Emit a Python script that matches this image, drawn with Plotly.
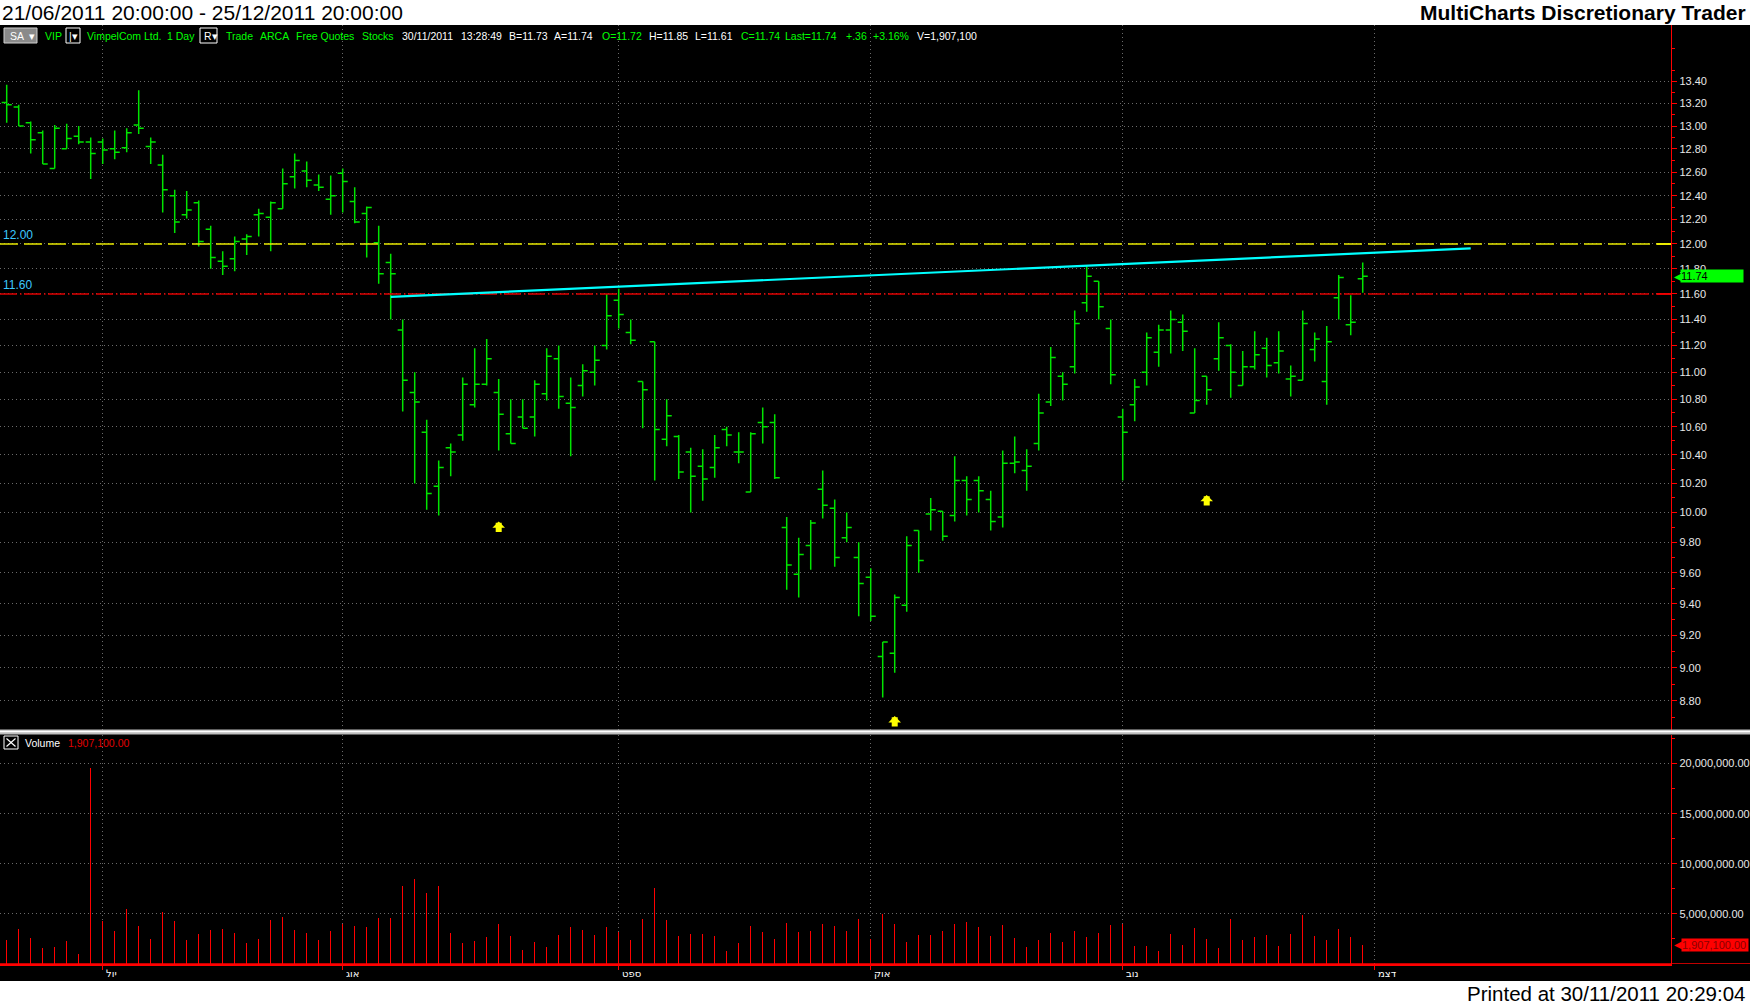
import math
import pandas as pd
import plotly.graph_objects as go

# ---------------- data ----------------
HOLIDAYS = ["2011-07-04", "2011-09-05", "2011-11-24"]
dates = list(pd.bdate_range("2011-06-21", "2011-11-30", freq="C", holidays=HOLIDAYS))
bar_x = list(range(len(dates)))

opens = [13.21, 13.17, 13.03, 12.94, 12.63, 12.80, 12.91, 12.86, 12.86, 12.80,
         12.81, 13.01, 12.82, 12.66, 12.40, 12.24, 12.34, 12.12, 11.86, 11.88,
         12.04, 12.24, 12.22, 12.29, 12.56, 12.61, 12.49, 12.37, 12.59, 12.35,
         12.25, 12.01, 11.85, 11.32, 10.85, 10.56, 10.18, 10.45, 10.54, 10.76,
         10.91, 10.85, 10.55, 10.67, 10.67, 10.84, 11.10, 10.77, 10.90, 11.00,
         11.20, 11.55, 11.30, 10.93, 11.23, 10.51, 10.53, 10.42, 10.32, 10.31,
         10.58, 10.42, 10.14, 10.63, 10.63, 9.90, 9.59, 9.78, 10.16, 10.03,
         9.83, 9.70, 9.57, 9.07, 9.09, 9.39, 9.88, 9.99, 10.01, 9.98,
         10.22, 10.22, 10.09, 9.97, 10.34, 10.29, 10.48, 10.78, 10.97, 11.04,
         11.53, 11.70, 11.33, 10.67, 10.76, 11.00, 11.15, 11.32, 11.38, 10.70,
         10.97, 11.10, 11.20, 10.90, 11.04, 11.18, 11.07, 10.95, 10.94, 11.17,
         10.93, 11.57, 11.36, 11.72]
highs = [13.37, 13.19, 13.04, 12.96, 13.01, 13.02, 13.00, 12.90, 12.89, 12.96,
         12.98, 13.32, 12.90, 12.75, 12.45, 12.44, 12.36, 12.15, 11.94, 12.06,
         12.08, 12.29, 12.35, 12.63, 12.76, 12.69, 12.58, 12.57, 12.63, 12.47,
         12.31, 12.15, 11.92, 11.40, 11.00, 10.65, 10.36, 10.48, 10.96, 11.18,
         11.25, 10.95, 10.80, 10.80, 10.94, 11.18, 11.20, 10.96, 11.06, 11.20,
         11.60, 11.64, 11.40, 10.93, 11.23, 10.80, 10.54, 10.45, 10.44, 10.54,
         10.60, 10.56, 10.56, 10.74, 10.69, 9.97, 9.83, 9.95, 10.29, 10.09,
         10.00, 9.80, 9.63, 9.16, 9.46, 9.84, 9.88, 10.10, 10.01, 10.39,
         10.25, 10.25, 10.15, 10.43, 10.53, 10.44, 10.84, 11.19, 11.00, 11.47,
         11.82, 11.70, 11.40, 10.73, 10.95, 11.30, 11.36, 11.47, 11.44, 11.18,
         10.97, 11.38, 11.21, 11.16, 11.31, 11.26, 11.31, 11.05, 11.47, 11.30,
         11.35, 11.75, 11.59, 11.85]
lows = [13.03, 13.00, 12.76, 12.67, 12.63, 12.80, 12.84, 12.54, 12.67, 12.71,
        12.77, 12.93, 12.67, 12.26, 12.09, 12.21, 11.98, 11.80, 11.75, 11.78,
        11.91, 12.06, 11.94, 12.29, 12.46, 12.47, 12.44, 12.24, 12.26, 12.17,
        11.89, 11.68, 11.40, 10.71, 10.20, 10.02, 9.98, 10.25, 10.50, 10.74,
        10.90, 10.43, 10.48, 10.59, 10.53, 10.79, 10.73, 10.39, 10.82, 10.90,
        11.17, 11.33, 11.21, 10.59, 10.22, 10.46, 10.23, 10.00, 10.08, 10.24,
        10.46, 10.34, 10.14, 10.48, 10.23, 9.49, 9.44, 9.62, 9.96, 9.64,
        9.80, 9.32, 9.29, 8.82, 8.97, 9.35, 9.60, 9.88, 9.81, 9.94,
        9.98, 10.00, 9.88, 9.90, 10.27, 10.15, 10.43, 10.75, 10.79, 10.99,
        11.46, 11.40, 10.91, 10.22, 10.64, 10.90, 11.04, 11.14, 11.16, 10.70,
        10.76, 11.01, 10.81, 10.90, 11.02, 10.96, 10.99, 10.82, 10.94, 11.08,
        10.76, 11.40, 11.28, 11.61]
closes = [13.19, 13.00, 12.88, 12.67, 12.98, 12.89, 12.86, 12.76, 12.79, 12.77,
          12.94, 12.98, 12.86, 12.45, 12.18, 12.28, 12.02, 11.89, 11.82, 12.02,
          12.06, 12.25, 12.34, 12.50, 12.70, 12.53, 12.47, 12.40, 12.52, 12.18,
          12.30, 11.76, 11.76, 10.94, 10.78, 10.13, 10.31, 10.42, 10.91, 10.91,
          11.10, 10.69, 10.48, 10.59, 10.91, 11.12, 10.82, 10.74, 11.01, 11.09,
          11.43, 11.44, 11.24, 10.87, 10.58, 10.68, 10.28, 10.25, 10.23, 10.45,
          10.54, 10.42, 10.55, 10.60, 10.24, 9.65, 9.72, 9.93, 10.05, 9.70,
          9.90, 9.53, 9.32, 9.16, 9.44, 9.78, 9.68, 10.02, 9.84, 10.22,
          10.09, 10.15, 9.94, 10.34, 10.35, 10.32, 10.70, 11.11, 10.91, 11.37,
          11.74, 11.50, 10.98, 10.56, 10.89, 11.26, 11.32, 11.40, 11.31, 10.79,
          10.87, 11.26, 11.00, 11.04, 11.13, 11.05, 11.16, 10.97, 11.37, 11.25,
          11.23, 11.73, 11.38, 11.74]
volume_m = [2.42, 3.52, 2.62, 1.63, 1.72, 2.32, 1.03, 19.54, 4.25, 3.32,
            5.51, 3.81, 2.52, 5.21, 4.31, 2.42, 3.02, 3.42, 3.52, 3.12,
            2.12, 2.52, 4.41, 4.71, 3.42, 3.12, 2.42, 3.32, 4.01, 3.81,
            3.71, 4.61, 4.61, 7.79, 8.49, 7.10, 7.79, 3.12, 2.12, 2.32,
            2.72, 4.01, 2.82, 1.43, 2.22, 1.72, 2.92, 3.71, 3.42, 2.92,
            3.71, 3.21, 2.42, 4.50, 7.58, 4.40, 2.81, 3.01, 3.01, 2.81,
            1.32, 2.12, 3.81, 3.21, 2.52, 4.11, 3.21, 3.31, 4.01, 3.81,
            3.31, 4.50, 2.52, 5.00, 4.01, 2.22, 2.91, 2.91, 3.31, 4.01,
            4.21, 3.71, 2.81, 3.91, 2.62, 1.72, 2.42, 3.11, 2.22, 3.31,
            2.72, 3.11, 3.91, 4.01, 1.82, 1.82, 1.32, 3.01, 1.92, 3.61,
            2.52, 1.62, 4.50, 2.42, 2.72, 2.91, 1.82, 3.01, 4.90, 2.81,
            2.42, 3.51, 2.72, 1.9071]
volumes = [v * 1e6 for v in volume_m]

month_labels = ["יול", "אוג", "ספט", "אוק", "נוב", "דצמ"]
month_pos = [i for i in range(1, len(dates)) if dates[i].month != dates[i - 1].month] + [len(dates)]

price_ticks = [8.8, 9.0, 9.2, 9.4, 9.6, 9.8, 10.0, 10.2, 10.4, 10.6, 10.8, 11.0,
               11.2, 11.4, 11.6, 11.8, 12.0, 12.2, 12.4, 12.6, 12.8, 13.0, 13.2, 13.4]
price_minor = [8.7, 8.9, 9.1, 9.3, 9.5, 9.7, 9.9, 10.1, 10.3, 10.5, 10.7, 10.9, 11.1,
               11.3, 11.5, 11.7, 11.9, 12.1, 12.3, 12.5, 12.7, 12.9, 13.1, 13.3, 13.5, 13.7]
vol_ticks = [5e6, 10e6, 15e6, 20e6]
vol_minor = [2.5e6, 7.5e6, 12.5e6, 17.5e6, 22.5e6]

trend_x = [32, 122]
trend_y = [11.576, 11.964]
level_yellow = 12.00
level_red = 11.60
arrow_x = [41, 74, 100]
arrow_tip = [9.94, 8.71, 10.12]
last_price = 11.74
last_volume = 1907100

# ---------------- layout helpers ----------------
W, H = 1750, 1005
AXIS_PX = 1671
BAR_PX = 12.0


def fx(px):
    return px / W


def fy(px):
    return 1 - px / H


FONT = "Liberation Sans, Arial, sans-serif"
GREEN = "#00e400"
TXT_GREEN = "#00ff00"
GRID = "#6a6a6a"
GRID_DASH = "1px,3px"

x_range = [-0.558, 138.69]
y_range = [0.93607, 1.14372]

fig = go.Figure()

# level lines (full width of the price panel)
fig.add_trace(go.Scatter(
    x=x_range, y=[level_yellow, level_yellow], mode="lines",
    line=dict(color="#e8e800", width=1.5, dash="18px,6px"),
    xaxis="x", yaxis="y", hoverinfo="skip", showlegend=False, cliponaxis=True))
fig.add_trace(go.Scatter(
    x=x_range, y=[level_red, level_red], mode="lines",
    line=dict(color="#e00000", width=1.5, dash="17px,3px,1.5px,2.5px"),
    xaxis="x", yaxis="y", hoverinfo="skip", showlegend=False, cliponaxis=True))
# solid level markers next to the price scale
seg_x = [x_range[1] - 14 / BAR_PX, x_range[1]]
fig.add_trace(go.Scatter(
    x=seg_x, y=[level_yellow, level_yellow], mode="lines",
    line=dict(color="#ffff00", width=1.5),
    xaxis="x", yaxis="y", hoverinfo="skip", showlegend=False))
fig.add_trace(go.Scatter(
    x=seg_x, y=[level_red, level_red], mode="lines",
    line=dict(color="#ff0000", width=1.5),
    xaxis="x", yaxis="y", hoverinfo="skip", showlegend=False))

fig.add_trace(go.Ohlc(
    x=bar_x, open=opens, high=highs, low=lows, close=closes,
    increasing=dict(line=dict(color=GREEN, width=1.5)),
    decreasing=dict(line=dict(color=GREEN, width=1.5)),
    tickwidth=0.42, xaxis="x", yaxis="y", hoverinfo="skip", showlegend=False,
))
fig.add_trace(go.Scatter(
    x=trend_x, y=trend_y, mode="lines", line=dict(color="#00ffff", width=2.2),
    xaxis="x", yaxis="y", hoverinfo="skip", showlegend=False,
))
fig.add_trace(go.Bar(
    x=bar_x, y=volumes, width=0.1, marker=dict(color="#ff0000", line=dict(width=0)),
    xaxis="x2", yaxis="y2", hoverinfo="skip", showlegend=False,
))

shapes = [
    # black chart background
    dict(type="rect", xref="paper", yref="paper", x0=0, x1=1, y0=fy(981), y1=fy(25),
         fillcolor="#000000", line=dict(width=0), layer="below"),
    # panel separator
    dict(type="rect", xref="paper", yref="paper", x0=0, x1=1, y0=fy(734.5), y1=fy(729.5),
         fillcolor="#bdbdbd", line=dict(width=0)),
    dict(type="line", xref="paper", yref="paper", x0=0, x1=1, y0=fy(731.5), y1=fy(731.5),
         line=dict(color="#ffffff", width=1.5)),
    # volume base line across full width
    dict(type="line", xref="paper", yref="y2", x0=0, x1=1, y0=0, y1=0,
         line=dict(color="#ff0000", width=1.5)),
    # toolbar boxes
    dict(type="rect", xref="paper", yref="paper", x0=fx(4), x1=fx(37), y0=fy(43), y1=fy(28),
         fillcolor="#8a8a8a", line=dict(color="#d0d0d0", width=1)),
    dict(type="rect", xref="paper", yref="paper", x0=fx(66), x1=fx(80), y0=fy(43), y1=fy(28),
         fillcolor="#000000", line=dict(color="#ffffff", width=1)),
    dict(type="rect", xref="paper", yref="paper", x0=fx(200), x1=fx(217), y0=fy(43), y1=fy(28),
         fillcolor="#000000", line=dict(color="#ffffff", width=1)),
    # volume legend box with X
    dict(type="rect", xref="paper", yref="paper", x0=fx(4), x1=fx(18), y0=fy(749), y1=fy(736),
         line=dict(color="#ffffff", width=1)),
    dict(type="line", xref="paper", yref="paper", x0=fx(6.5), x1=fx(15.5), y0=fy(738.5), y1=fy(746.5),
         line=dict(color="#ffffff", width=1.2)),
    dict(type="line", xref="paper", yref="paper", x0=fx(6.5), x1=fx(15.5), y0=fy(746.5), y1=fy(738.5),
         line=dict(color="#ffffff", width=1.2)),
]

ann = []
# header / footer
ann.append(dict(text="21/06/2011 20:00:00 - 25/12/2011 20:00:00", xref="paper", yref="paper",
                x=0, y=fy(12.5), xanchor="left", yanchor="middle", showarrow=False,
                font=dict(family=FONT, size=21, color="#000000")))
ann.append(dict(text="<b>MultiCharts Discretionary Trader</b>", xref="paper", yref="paper",
                x=fx(1748), y=fy(12.5), xanchor="right", yanchor="middle", showarrow=False,
                font=dict(family=FONT, size=21, color="#000000")))
ann.append(dict(text="Printed at 30/11/2011 20:29:04", xref="paper", yref="paper",
                x=fx(1748), y=fy(993), xanchor="right", yanchor="middle", showarrow=False,
                font=dict(family=FONT, size=20.5, color="#000000")))

# toolbar
WHITE = "#ffffff"
toolbar = [
    ("SA", 8, WHITE), ("▾", 27, WHITE), ("VIP", 43, TXT_GREEN), ("|▾", 67, WHITE),
    ("VimpelCom Ltd.", 85, TXT_GREEN), ("1 Day", 165, TXT_GREEN), ("R▾", 202, WHITE),
    ("Trade", 224, TXT_GREEN), ("ARCA", 258, TXT_GREEN), ("Free Quotes", 294, TXT_GREEN),
    ("Stocks", 360, TXT_GREEN), ("30/11/2011", 400, WHITE), ("13:28:49", 459, WHITE),
    ("B=11.73", 507, WHITE), ("A=11.74", 552, WHITE), ("O=11.72", 600, TXT_GREEN),
    ("H=11.85", 647, WHITE), ("L=11.61", 693, WHITE), ("C=11.74", 739, TXT_GREEN),
    ("Last=11.74", 783, TXT_GREEN), ("+.36", 844, TXT_GREEN), ("+3.16%", 871, TXT_GREEN),
    ("V=1,907,100", 915, WHITE),
]
for t, px, c in toolbar:
    ann.append(dict(text=t, xref="paper", yref="paper", x=fx(px), y=fy(35.7),
                    xanchor="left", yanchor="middle", showarrow=False,
                    font=dict(family=FONT, size=10.5, color=c)))

# level labels
for lv in (level_yellow, level_red):
    ann.append(dict(text=f"{lv:.2f}", xref="paper", yref="y", x=0.0005, y=math.log10(lv),
                    xanchor="left", yanchor="bottom", showarrow=False,
                    font=dict(family=FONT, size=12, color="#3cc8ff")))

# arrows
for ax_, tip in zip(arrow_x, arrow_tip):
    ann.append(dict(text="", x=ax_, y=math.log10(tip), xref="x", yref="y", showarrow=True,
                    ax=0, ay=12, arrowhead=1, arrowwidth=6, arrowsize=0.35,
                    arrowcolor="#ffff00"))

# month labels on the time axis
for p, lab in zip(month_pos, month_labels):
    ann.append(dict(text=lab, xref="x2", yref="paper", x=p, y=fy(973),
                    xanchor="left", yanchor="middle", xshift=1, showarrow=False,
                    font=dict(family="DejaVu Sans", size=10, color="#ffffff")))

# last price box
ann.append(dict(text="11.74", xref="paper", yref="y", x=fx(1680), y=math.log10(last_price),
                xanchor="left", yanchor="middle", showarrow=False, width=62, align="left",
                bgcolor="#00ff00", borderpad=0,
                font=dict(family=FONT, size=11, color="#000000")))
ann.append(dict(text="◀", xref="paper", yref="y", x=fx(1672), y=math.log10(last_price),
                xanchor="left", yanchor="middle", showarrow=False,
                font=dict(family="DejaVu Sans", size=10, color="#00ff00")))

# volume legend
ann.append(dict(text="Volume", xref="paper", yref="paper", x=fx(23), y=fy(743),
                xanchor="left", yanchor="middle", showarrow=False,
                font=dict(family=FONT, size=10.5, color=WHITE)))
ann.append(dict(text="1,907,100.00", xref="paper", yref="paper", x=fx(66), y=fy(743),
                xanchor="left", yanchor="middle", showarrow=False,
                font=dict(family=FONT, size=10.5, color="#e00000")))
ann.append(dict(text="1,907,100.00", xref="paper", yref="y2", x=fx(1681), y=last_volume,
                xanchor="left", yanchor="middle", showarrow=False, width=66, align="left",
                bgcolor="#ff0000", borderpad=0,
                font=dict(family=FONT, size=11, color="#8a0000")))
ann.append(dict(text="◀", xref="paper", yref="y2", x=fx(1672), y=last_volume,
                xanchor="left", yanchor="middle", showarrow=False,
                font=dict(family="DejaVu Sans", size=10, color="#ff0000")))

fig.update_layout(
    width=W, height=H, autosize=False,
    margin=dict(l=0, r=0, t=0, b=0, pad=0),
    paper_bgcolor="#ffffff", plot_bgcolor="#000000",
    hovermode=False, showlegend=False, bargap=0,
    font=dict(family=FONT, color="#e8e8e8"),
    xaxis=dict(domain=[0, fx(AXIS_PX)], range=x_range, anchor="y",
               tickmode="array", tickvals=month_pos, showticklabels=False, ticks="",
               showgrid=True, gridcolor=GRID, griddash=GRID_DASH, gridwidth=1,
               zeroline=False, showline=False, rangeslider=dict(visible=False), fixedrange=True),
    yaxis=dict(type="log", domain=[fy(729.5), fy(25)], range=y_range, anchor="x", side="right",
               tickmode="array", tickvals=price_ticks, ticktext=[f"{v:.2f}" for v in price_ticks],
               ticks="outside", ticklen=5, tickcolor="#ff0000", tickwidth=1,
               showline=True, linecolor="#ff0000", linewidth=1.2,
               showgrid=True, gridcolor=GRID, griddash=GRID_DASH, gridwidth=1,
               zeroline=False, tickfont=dict(family=FONT, size=11, color="#e8e8e8"),
               minor=dict(tickmode="array", tickvals=price_minor, ticks="outside", ticklen=3,
                          tickcolor="#ff0000", showgrid=False),
               fixedrange=True),
    xaxis2=dict(domain=[0, fx(AXIS_PX)], range=x_range, anchor="y2", matches="x",
                tickmode="array", tickvals=month_pos, showticklabels=False,
                ticks="outside", ticklen=4, tickcolor="#ff0000",
                showline=True, linecolor="#ff0000", linewidth=1.5,
                showgrid=True, gridcolor=GRID, griddash=GRID_DASH, gridwidth=1,
                zeroline=False, fixedrange=True),
    yaxis2=dict(domain=[fy(964), fy(735)], range=[0, 22.854e6], anchor="x2", side="right",
                tickmode="array", tickvals=vol_ticks, ticktext=[f"{v:,.2f}" for v in vol_ticks],
                ticks="outside", ticklen=5, tickcolor="#ff0000",
                showline=True, linecolor="#ff0000", linewidth=1.2,
                showgrid=True, gridcolor=GRID, griddash=GRID_DASH, gridwidth=1,
                zeroline=False, tickfont=dict(family=FONT, size=11, color="#e8e8e8"),
                minor=dict(tickmode="array", tickvals=vol_minor, ticks="outside", ticklen=3,
                           tickcolor="#ff0000", showgrid=False),
                fixedrange=True),
    shapes=shapes, annotations=ann,
)

fig.write_html("out.html", config={"displayModeBar": False, "staticPlot": True},
               post_script="document.body.style.margin='0';document.body.style.overflow='hidden';")
